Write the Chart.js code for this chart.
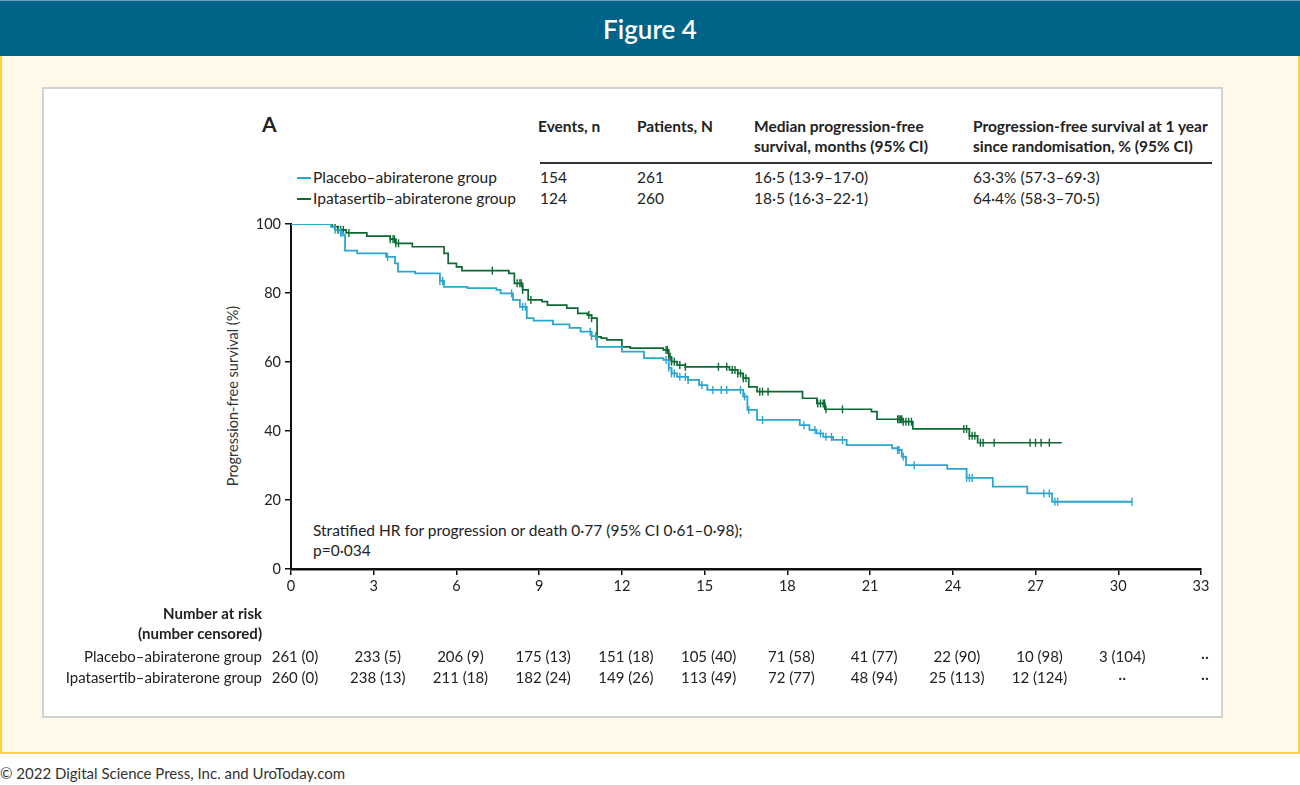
<!DOCTYPE html>
<html>
<head>
<meta charset="utf-8">
<script src="https://cdn.jsdelivr.net/npm/chart.js@4/dist/chart.umd.min.js"></script>
<style>
  body { margin: 0; width: 1300px; height: 785px; background: #fff; font-family: Lato, "Open Sans", sans-serif; position: relative; overflow: hidden; }
  #header { position: absolute; left: 0; top: 0; width: 1300px; height: 56px; background: #006489; border-top: 1px solid #6fa3b8; box-sizing: border-box; color: #fff; font-size: 26px; font-weight: 600; text-align: center; line-height: 56px; }
  #cream { position: absolute; left: 0; top: 56px; width: 1300px; height: 698px; background: #fff9ea; border: 2px solid #fdd33e; border-top: none; box-sizing: border-box; }
  #panel { position: absolute; left: 42px; top: 87px; width: 1181px; height: 631px; background: #fff; border: 2px solid #d2d2d2; box-sizing: border-box; }
  #footer { position: absolute; left: 0; top: 764px; font-size: 15px; color: #333; }
  .t { position: absolute; font-size: 15.5px; color: #222; white-space: nowrap; line-height: 20px; }
  .h { font-weight: 700; }
  .leg { position: absolute; width: 14px; height: 2px; }
  #ytitle { position: absolute; left: 232px; top: 396px; transform: translate(-50%, -50%) rotate(-90deg); font-size: 14.5px; color: #333; white-space: nowrap; }
  #wrap { position: absolute; left: 0; top: 0; width: 1300px; height: 785px; }
</style>
</head>
<body>
<div id="header">Figure 4</div>
<div id="cream"></div>
<div id="panel"></div>
<div id="footer">© 2022 Digital Science Press, Inc. and UroToday.com</div>

<div class="t h" style="left:262px;top:114px;font-size:21px;">A</div>
<div class="t h" style="left:538px;top:116px;">Events, n</div>
<div class="t h" style="left:637px;top:116px;">Patients, N</div>
<div class="t h" style="left:754px;top:116px;">Median progression-free<br>survival, months (95% CI)</div>
<div class="t h" style="left:973px;top:116px;">Progression-free survival at 1 year<br>since randomisation, % (95% CI)</div>
<div style="position:absolute;left:540px;top:162px;width:672px;height:1.5px;background:#333;"></div>
<div class="leg" style="left:297px;top:177px;background:#2aa6d0;"></div>
<div class="leg" style="left:297px;top:198px;background:#0b6a33;"></div>
<div class="t" style="left:313px;top:167px;">Placebo–abiraterone group</div>
<div class="t" style="left:297px;top:188px;padding-left:16px;">Ipatasertib–abiraterone group</div>
<div class="t" style="left:540px;top:167px;">154</div>
<div class="t" style="left:540px;top:188px;">124</div>
<div class="t" style="left:637px;top:167px;">261</div>
<div class="t" style="left:637px;top:188px;">260</div>
<div class="t" style="left:754px;top:167px;">16·5 (13·9–17·0)</div>
<div class="t" style="left:754px;top:188px;">18·5 (16·3–22·1)</div>
<div class="t" style="left:973px;top:167px;">63·3% (57·3–69·3)</div>
<div class="t" style="left:973px;top:188px;">64·4% (58·3–70·5)</div>
<div id="ytitle">Progression-free survival (%)</div>
<div class="t" style="left:313px;top:520px;">Stratified HR for progression or death 0·77 (95% CI 0·61–0·98);<br>p=0·034</div>

<div id="wrap"><canvas id="km"></canvas></div>

<script>
// Kaplan-Meier steps (months, % progression-free)
var placeboT = [0, 1.45, 1.6, 1.8, 1.9, 1.96, 2.4, 3.45, 3.77, 3.88, 4.5, 5.4, 5.55, 6.4, 7.45, 7.6, 8.05, 8.3, 8.55, 8.8, 9.5, 10.1, 10.5, 10.9, 11.1, 12.0, 12.8, 13.5, 13.7, 13.8, 14.0, 14.4, 14.8, 15.1, 16.4, 16.55, 16.9, 18.45, 18.8, 19.06, 19.3, 19.66, 20.15, 21.8, 22.0, 22.15, 22.3, 23.8, 24.5, 25.45, 26.7, 27.6, 30.5];
var placeboS = [100, 99.2, 98.3, 97.5, 96.8, 92.3, 91.5, 90.5, 88.6, 86.2, 85.7, 83.5, 81.8, 81.4, 80.9, 79.9, 78, 76, 72.7, 72.0, 70.9, 69.9, 68.8, 67.5, 64.4, 63, 61.1, 60.6, 58.3, 56.7, 55.7, 54.8, 53.3, 51.9, 50, 46.1, 43.2, 41.7, 40.3, 39.3, 38.3, 37.4, 35.9, 35.0, 34.5, 32.6, 30.1, 29.0, 26.4, 23.9, 21.9, 19.5, 19.5];
var ipatT = [0, 1.5, 1.7, 2.0, 2.75, 3.6, 3.8, 4.4, 5.55, 5.7, 6.0, 6.2, 7.9, 8.1, 8.4, 8.6, 9.1, 9.3, 10.0, 10.4, 10.75, 10.9, 11.1, 11.25, 11.45, 12.0, 12.3, 13.5, 13.7, 13.8, 14.0, 14.3, 15.9, 16.2, 16.4, 16.6, 16.9, 18.55, 19.07, 19.36, 21.05, 21.25, 22.2, 22.55, 24.6, 24.9, 27.95];
var ipatS = [100, 99.2, 98.3, 97.4, 96.5, 95.6, 94.4, 93.4, 91.5, 88.6, 87.6, 86.5, 85.7, 82.8, 80.9, 78, 77.5, 76.5, 75.6, 74.1, 73.6, 72.7, 67.3, 66.9, 66.4, 64.4, 64, 63.5, 61.5, 60.1, 59.1, 58.6, 57.7, 56.7, 55.3, 52.8, 51.4, 49.5, 48, 46.3, 45.6, 43.4, 42.7, 40.6, 38.6, 36.6, 36.6];

// censoring times (months)
var placeboCens = [1.6, 1.7, 1.8, 1.85, 3.5, 5.4, 5.5, 8.0, 8.4, 8.5, 10.85, 10.9, 11.05, 13.6, 13.7, 13.8, 13.9, 14.1, 14.3, 14.4, 14.9, 15.3, 15.6, 15.8, 16.3, 16.45, 16.6, 17.1, 18.6, 19.0, 19.2, 19.4, 19.6, 20.0, 22.0, 22.05, 22.2, 22.6, 24.5, 24.6, 24.7, 27.3, 27.5, 27.7, 27.8, 30.5];
var ipatCens = [1.6, 1.7, 1.8, 1.9, 2.1, 3.6, 3.7, 3.75, 3.8, 3.9, 7.3, 8.2, 8.3, 8.35, 8.4, 8.7, 10.8, 10.9, 13.6, 13.65, 13.7, 13.75, 13.8, 13.9, 14.1, 14.3, 15.5, 15.8, 16.0, 16.1, 16.2, 16.3, 16.4, 16.5, 17.0, 17.1, 17.3, 19.1, 19.2, 19.3, 19.35, 19.4, 20.0, 22.0, 22.05, 22.1, 22.15, 22.2, 22.3, 22.4, 22.5, 24.4, 24.5, 24.6, 24.7, 24.8, 25.0, 25.1, 25.5, 26.8, 27.0, 27.2, 27.5];

// number at risk table
var riskTimes = [0, 3, 6, 9, 12, 15, 18, 21, 24, 27, 30, 33];
var riskPlacebo = ['261 (0)', '233 (5)', '206 (9)', '175 (13)', '151 (18)', '105 (40)', '71 (58)', '41 (77)', '22 (90)', '10 (98)', '3 (104)', '··'];
var riskIpat = ['260 (0)', '238 (13)', '211 (18)', '182 (24)', '149 (26)', '113 (49)', '72 (77)', '48 (94)', '25 (113)', '12 (124)', '··', '··'];

var blue = '#2aa6d0';
var green = '#0b6a33';
var font = 'Lato, "Open Sans", sans-serif';

function pts(T, S) {
    return T.map(function (t, i) { return { x: t, y: S[i] }; });
}
function survAt(T, S, t) {
    var v = S[0];
    for (var i = 0; i < T.length; i++) { if (T[i] <= t) v = S[i]; }
    return v;
}
function censPts(C, T, S) {
    return C.map(function (t) { return { x: t, y: survAt(T, S, t) }; });
}

var riskTable = {
    id: 'riskTable',
    afterDraw: function (chart) {
        var c = chart.ctx, xs = chart.scales.x;
        c.save();
        c.fillStyle = '#222';
        c.textBaseline = 'middle';
        c.textAlign = 'right';
        c.font = 'bold 15px ' + font;
        c.fillText('Number at risk', 262, 614);
        c.fillText('(number censored)', 262, 634);
        c.font = '15px ' + font;
        c.fillText('Placebo–abiraterone group', 262, 657);
        c.fillText('Ipatasertib–abiraterone group', 262, 678);
        c.textAlign = 'center';
        riskTimes.forEach(function (t, i) {
            var px = xs.getPixelForValue(t);
            c.fillText(riskPlacebo[i], px + 4, 657);
            c.fillText(riskIpat[i], px + 4, 678);
        });
        c.restore();
    }
};

var ctx = document.getElementById('km').getContext('2d');
var myChart = new Chart(ctx, {
    type: 'line',
    data: {
        datasets: [
        {
            label: 'Placebo–abiraterone group',
            data: pts(placeboT, placeboS),
            borderColor: blue,
            borderWidth: 1.8,
            stepped: 'before',
            pointRadius: 0,
            fill: false
        },
        {
            label: 'Ipatasertib–abiraterone group',
            data: pts(ipatT, ipatS),
            borderColor: green,
            borderWidth: 1.7,
            stepped: 'before',
            pointRadius: 0,
            fill: false
        },
        {
            label: 'placebo censored',
            data: censPts(placeboCens, placeboT, placeboS),
            showLine: false,
            pointStyle: 'line',
            rotation: 90,
            pointRadius: 4,
            borderColor: blue,
            pointBorderWidth: 1.4
        },
        {
            label: 'ipatasertib censored',
            data: censPts(ipatCens, ipatT, ipatS),
            showLine: false,
            pointStyle: 'line',
            rotation: 90,
            pointRadius: 4,
            borderColor: green,
            pointBorderWidth: 1.4
        }
    ]
    },
    options: {
        responsive: true,
        maintainAspectRatio: false,
        animation: false,
        layout: { padding: { left: 0, top: 224, right: 99, bottom: 176 } },
        plugins: { legend: { display: false }, tooltip: { enabled: false } },
        scales: {
            x: {
                type: 'linear',
                min: 0,
                max: 33,
                afterFit: function (s) { s.height = 40; },
                ticks: { stepSize: 3, color: '#222', font: { family: font, size: 14.5 }, padding: 3 },
                grid: { drawOnChartArea: false, drawTicks: true, tickLength: 6, color: '#111', lineWidth: 1.5 },
                border: { display: true, color: '#111', width: 2.5 }
            },
            y: {
                min: 0,
                max: 100,
                afterFit: function (s) { s.width = 291; },
                ticks: { stepSize: 20, color: '#222', font: { family: font, size: 14.5 }, padding: 4 },
                grid: { drawOnChartArea: false, drawTicks: true, tickLength: 6, color: '#111', lineWidth: 1.5 },
                border: { display: true, color: '#111', width: 2 }
            }
        }
    },
    plugins: [riskTable]
});
</script>
</body>
</html>
